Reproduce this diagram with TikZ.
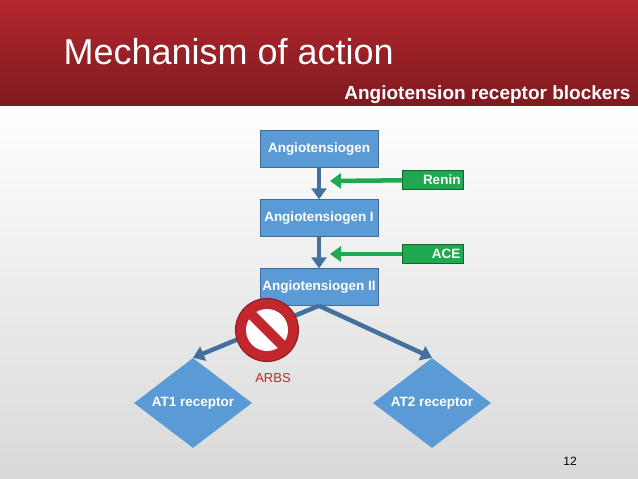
\documentclass[tikz,border=0pt]{standalone}
\usepackage{fontspec}
\setmainfont{Liberation Sans}
\usetikzlibrary{shapes.geometric,arrows.meta,calc}
\definecolor{boxblue}{HTML}{5B9BD5}
\definecolor{arrowblue}{HTML}{41719C}
\definecolor{enzgreen}{HTML}{1FA84F}
\definecolor{bandred}{HTML}{B3272E}
\definecolor{banddark}{HTML}{7E1A1F}
\definecolor{stopred}{HTML}{C1272D}
\tikzset{
  stepbox/.style={rectangle,fill=boxblue,draw=boxblue!70!black,minimum width=118pt,minimum height=37pt,
    text=white,font=\bfseries\fontsize{13.5}{15}\selectfont,inner sep=1pt},
  enzbox/.style={rectangle,fill=enzgreen,draw=enzgreen!60!black,minimum width=61pt,minimum height=19pt,
    text=white,font=\bfseries\fontsize{13.5}{15}\selectfont,align=right,text width=55pt,inner sep=2pt},
  receptor/.style={diamond,fill=boxblue,minimum width=118pt,minimum height=90pt,aspect=1.3,
    text=white,font=\bfseries\fontsize{13.5}{15}\selectfont,inner sep=0pt},
  flow/.style={-{Triangle[length=11pt,width=15pt]},line width=4.5pt,draw=arrowblue},
  acts/.style={-{Triangle[length=11pt,width=15pt]},line width=4.5pt,draw=enzgreen}
}
\begin{document}
\begin{tikzpicture}[x=1pt,y=-1pt]
        % background
        \useasboundingbox (0,0) rectangle (638,479);
        \shade[top color=white,bottom color=gray!30] (0,105) rectangle (638,479);
        \shade[top color=bandred,bottom color=banddark] (0,0) rectangle (638,105);
        \node[anchor=base west,text=white,font=\fontsize{36}{42}\selectfont] (title) at (60,64) {Mechanism of action};
        \node[anchor=base east,text=white,font=\bfseries\fontsize{19}{22}\selectfont] (subtitle) at (634,99) {Angiotension receptor blockers};

        % cascade
        \node[stepbox] (a0) at (319,149) {Angiotensiogen};
        \node[stepbox] (a1) at (319,218) {Angiotensiogen I};
        \node[stepbox] (a2) at (319,287) {Angiotensiogen II};
        \node[enzbox] (renin) at (433,180) {Renin};
        \node[enzbox] (ace) at (433,254) {ACE};
        \node[receptor] (at1) at (193,403) {AT1 receptor};
        \node[receptor] (at2) at (432,403) {AT2 receptor};
        \coordinate (hit1) at (330,181);
        \coordinate (hit2) at (330,254);

        \draw [flow] (a0) to (a1);
        \draw [flow] (a1) to (a2);
        \draw [acts] (renin) to (hit1);
        \draw [acts] (ace) to (hit2);
        \draw [flow] (a2.south) to (at1.north);
        \draw [flow] (a2.south) to (at2.north);

        % blocker
        \node[circle,draw=stopred!70!black,line width=1pt,minimum size=63pt,fill=stopred] (stop) at (267,330) {};
        \fill[white] (stop.center) circle (21pt);
        \fill[stopred,rotate around={-45:(stop.center)}] ($(stop.center)+(-24,-5)$) rectangle ($(stop.center)+(24,5)$);
        \node[text=stopred,font=\fontsize{13}{15}\selectfont] (arbs) at (273,378) {ARBS};
        \node[font=\fontsize{12}{14}\selectfont] (page) at (570,461) {12};
\end{tikzpicture}
\end{document}
